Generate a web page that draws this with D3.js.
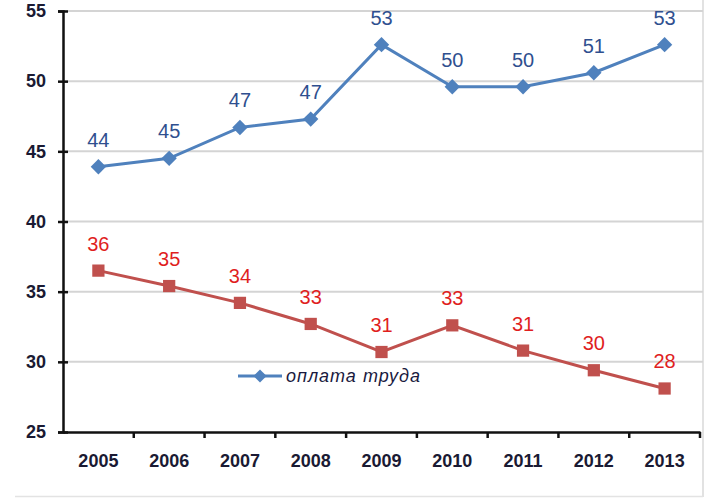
<!DOCTYPE html>
<html>
<head>
<meta charset="utf-8">
<script src="https://cdn.jsdelivr.net/npm/d3@7"></script>
<style>
  body { margin: 0; background: #fff; }
  svg text { font-family: "Liberation Sans Narrow", "Arial Narrow", "Liberation Sans", sans-serif; }
</style>
</head>
<body>
<svg id="chart" width="711" height="498"></svg>
<script>
const years = ["2005", "2006", "2007", "2008", "2009", "2010", "2011", "2012", "2013"];
const wageValues = [43.9, 44.5, 46.7, 47.3, 52.6, 49.6, 49.6, 50.6, 52.6];
const wageLabels = [44, 45, 47, 47, 53, 50, 50, 51, 53];
const otherValues = [36.5, 35.4, 34.2, 32.7, 30.7, 32.6, 30.8, 29.4, 28.1];
const otherLabels = [36, 35, 34, 33, 31, 33, 31, 30, 28];
const yTicks = [25, 30, 35, 40, 45, 50, 55];
const legendName = "оплата труда";

const svg = d3.select("#chart");
const plotLeft = 63, plotRight = 700, plotTop = 11, plotBottom = 432;

const x = d3.scaleBand().domain(years).range([plotLeft, plotRight]);
const y = d3.scaleLinear().domain([25, 55]).range([plotBottom, plotTop]);

// frame at right and bottom
svg.append("line").attr("x1", 703).attr("x2", 703).attr("y1", 0).attr("y2", 497)
  .attr("stroke", "#d9d9d9").attr("stroke-width", 1.5);
svg.append("line").attr("x1", 15).attr("x2", 703).attr("y1", 496.5).attr("y2", 496.5)
  .attr("stroke", "#e3e3e3").attr("stroke-width", 1.5);

// gridlines
svg.append("g").selectAll("line").data(yTicks.filter(d => d > 25)).join("line")
  .attr("x1", plotLeft).attr("x2", 703)
  .attr("y1", d => y(d)).attr("y2", d => y(d))
  .attr("stroke", "#d4d4d4").attr("stroke-width", 2);

// y axis
const yAxis = svg.append("g").attr("transform", `translate(${plotLeft},0)`)
  .call(d3.axisLeft(y).tickValues(yTicks).tickSize(5).tickPadding(12));
yAxis.select(".domain").attr("stroke", "#111").attr("stroke-width", 2.5);
yAxis.selectAll(".tick line").attr("stroke", "#111").attr("stroke-width", 2.5).attr("x2", 5).attr("x1", -5);
yAxis.selectAll(".tick text").attr("font-size", 18).attr("fill", "#1a1a33").attr("font-weight", "bold");

// x axis
const xAxis = svg.append("g").attr("transform", `translate(0,${plotBottom})`)
  .call(d3.axisBottom(x).tickSize(0).tickPadding(22));
xAxis.select(".domain").attr("stroke", "#111").attr("stroke-width", 2.5);
xAxis.selectAll(".tick text").attr("font-size", 18).attr("fill", "#1a1a33").attr("font-weight", "bold");
svg.append("g").selectAll("line").data(years).join("line")
  .attr("x1", (d, i) => plotLeft + x.step() * (i + 1)).attr("x2", (d, i) => plotLeft + x.step() * (i + 1))
  .attr("y1", plotBottom).attr("y2", plotBottom + 6)
  .attr("stroke", "#111").attr("stroke-width", 2.5);

const cx = d => x(d) + x.bandwidth() / 2;
const line = d3.line().x(d => cx(d.year)).y(d => y(d.v));

function series(values, labels, color, labelColor, symbol, size) {
  const data = years.map((yr, i) => ({ year: yr, v: values[i], label: labels[i] }));
  svg.append("path").datum(data).attr("d", line)
    .attr("fill", "none").attr("stroke", color).attr("stroke-width", 3);
  svg.append("g").selectAll("path").data(data).join("path")
    .attr("transform", d => `translate(${cx(d.year)},${y(d.v)})`)
    .attr("d", d3.symbol().type(symbol).size(size))
    .attr("fill", color);
  svg.append("g").selectAll("text").data(data).join("text")
    .attr("x", d => cx(d.year)).attr("y", d => y(d.v) - 20)
    .attr("text-anchor", "middle").attr("font-size", 20)
    .attr("fill", labelColor)
    .text(d => d.label);
}

series(wageValues, wageLabels, "#4f81bd", "#2f4f8f", d3.symbolDiamond2, 150);
series(otherValues, otherLabels, "#c0504d", "#e01e1e", d3.symbolSquare, 150);

// legend
const lg = svg.append("g").attr("transform", "translate(238,376)");
lg.append("line").attr("x1", 0).attr("x2", 44).attr("stroke", "#4f81bd").attr("stroke-width", 3);
lg.append("path").attr("transform", "translate(22,0)")
  .attr("d", d3.symbol().type(d3.symbolDiamond2).size(110)).attr("fill", "#4f81bd");
lg.append("text").attr("x", 48).attr("y", 6).attr("font-size", 18)
  .attr("font-style", "italic").attr("fill", "#1a1a40").attr("letter-spacing", 1)
  .text(legendName);
</script>
</body>
</html>
